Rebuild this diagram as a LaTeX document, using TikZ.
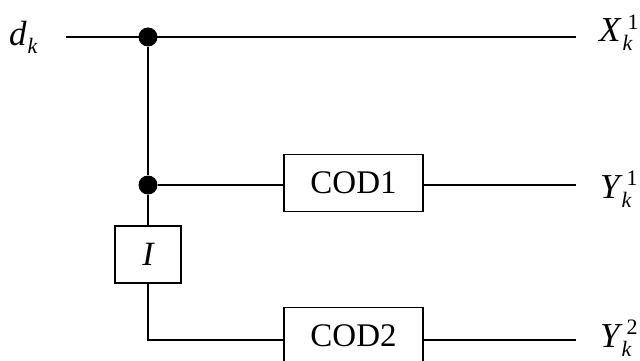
\documentclass[tikz,border=0pt]{standalone}
\usepackage{fontspec}
\setmainfont{Liberation Serif}
\newcommand{\myidx}{\fontsize{22}{24}\selectfont}
\newcommand{\lab}[3]{#1\kern2pt\rlap{\raisebox{-9pt}{\myidx\itshape #2}}\kern5pt\raisebox{13pt}{\myidx\upshape #3}}
\begin{document}
\begin{tikzpicture}[x=1pt,y=-1pt,
  wire/.style={line width=1.6pt},
  blockbox/.style={draw,line width=1.3pt,minimum width=139pt,minimum height=57pt,inner sep=0pt,font=\fontsize{33}{36}\selectfont},
  ibox/.style={draw,line width=1.3pt,minimum width=66pt,minimum height=57pt,inner sep=0pt,font=\fontsize{34}{36}\selectfont\itshape},
  junction/.style={circle,fill,inner sep=0pt,minimum size=19pt},
  lbl/.style={inner sep=0pt,font=\fontsize{35}{37}\selectfont\itshape}]
\useasboundingbox (0,0) rectangle (640,361);
\coordinate (din) at (66,37);
\coordinate (xout) at (576,37);
\coordinate (y1out) at (576,185);
\coordinate (y2out) at (576,340);
\node[junction] (j1) at (148,37) {};
\node[junction] (j2) at (148,185) {};
\node[ibox] (I) at (148,254.5) {I};
\node[blockbox] (c1) at (353.5,183) {COD1};
\node[blockbox] (c2) at (353.5,336) {COD2};
\draw[wire] (din) -- (xout);
\draw[wire] (j1) -- (j2);
\draw[wire] (j2) -- (I.north);
\draw[wire] (j2) -- (c1.west |- j2);
\draw[wire] (c1.east |- y1out) -- (y1out);
\draw[wire] (I.south) |- (c2.west |- y2out);
\draw[wire] (c2.east |- y2out) -- (y2out);
\node[lbl,anchor=base west] (ld) at (9,46) {d\kern1pt\raisebox{-8pt}{\myidx\itshape k}};
\node[lbl,anchor=base west] (lx) at (599,42) {\lab{X}{k}{1}};
\node[lbl,anchor=base west] (ly1) at (600,198) {\lab{Y}{k}{1}};
\node[lbl,anchor=base west] (ly2) at (600,347) {\lab{Y}{k}{2}};
\end{tikzpicture}
\end{document}
